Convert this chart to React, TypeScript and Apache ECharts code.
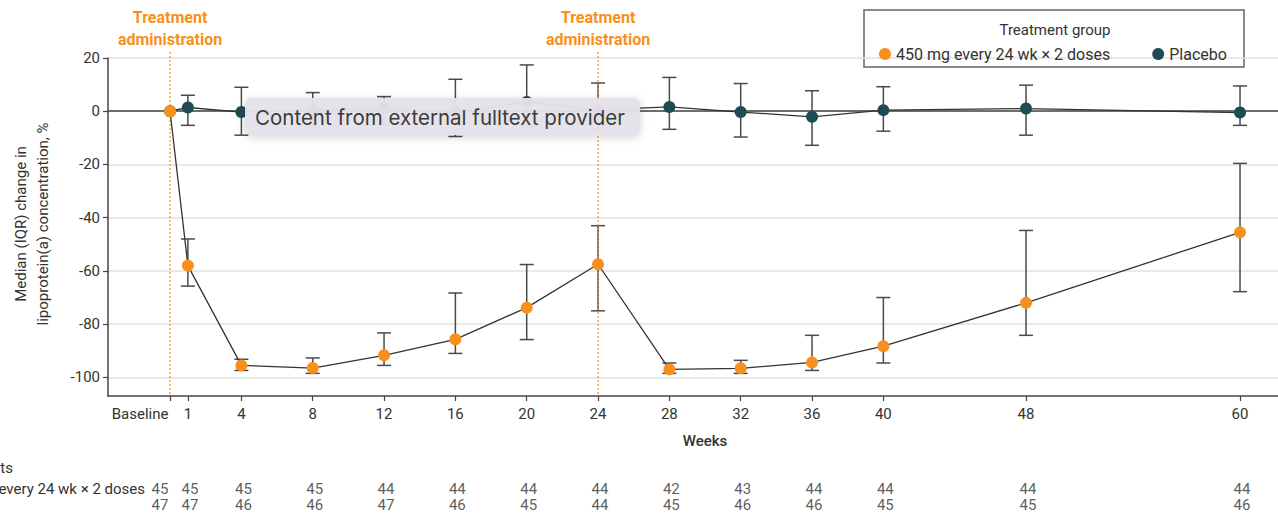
import React, { useEffect, useRef } from "react";
import * as echarts from "echarts";

const weeks = [0, 1, 4, 8, 12, 16, 20, 24, 28, 32, 36, 40, 48, 60];
const weekLabels = ["Baseline", "1", "4", "8", "12", "16", "20", "24", "28", "32", "36", "40", "48", "60"];
const yTicks = [-100, -80, -60, -40, -20, 0, 20];

const treatName = "450 mg every 24 wk × 2 doses";
const placeboName = "Placebo";

const treatMedian = [0, -58, -95.5, -96.5, -91.7, -85.7, -73.8, -57.5, -97, -96.6, -94.4, -88.3, -72, -45.5];
const treatQ1 = [0, -65.7, -97.4, -98.5, -95.5, -91, -85.8, -75, -98.5, -98.5, -97.4, -94.6, -84.2, -67.8];
const treatQ3 = [0, -48, -93.2, -92.7, -83.3, -68.3, -57.6, -43, -94.6, -93.6, -84.2, -70, -44.8, -19.6];

const placeboMedian = [0, 1.4, -0.3, 0.5, 1, -0.5, 3.5, 0.5, 1.6, -0.3, -2.1, 0.4, 1, -0.5];
const placeboQ1 = [0, -5.3, -9, -6, -5, -9.5, -6, -7, -6.8, -9.7, -12.8, -7.5, -9, -5.3];
const placeboQ3 = [0, 6, 9, 7, 5.5, 12, 17.4, 10.6, 12.7, 10.4, 7.7, 9.2, 9.8, 9.5];

const treatCounts = [45, 45, 45, 45, 44, 44, 44, 44, 42, 43, 44, 44, 44, 44];
const placeboCounts = [47, 47, 46, 46, 47, 46, 45, 44, 45, 46, 46, 45, 45, 46];

const treatmentWeeks = [0, 24];

const ORANGE = "#F7901E";
const TEAL = "#1D4C55";
const TEXT = "#333333";
const FONT = "Roboto";

export default function App() {
  const ref = useRef<HTMLDivElement>(null);

  useEffect(() => {
    document.body.style.margin = "0";
    if (!ref.current) return;
    const chart = echarts.init(ref.current, undefined, { renderer: "svg" });

    const errRender = (params: any, api: any) => {
      const x = api.value(0);
      const lo = api.value(1);
      const hi = api.value(2);
      if (lo === hi) return { type: "group", children: [] };
      const pLo = api.coord([x, lo]);
      const pHi = api.coord([x, hi]);
      const w = 7;
      const st = { stroke: "#4a4a4a", lineWidth: 1.5 };
      return {
        type: "group",
        children: [
          { type: "line", shape: { x1: pHi[0], y1: pHi[1], x2: pLo[0], y2: pLo[1] }, style: st },
          { type: "line", shape: { x1: pHi[0] - w, y1: pHi[1], x2: pHi[0] + w, y2: pHi[1] }, style: st },
          { type: "line", shape: { x1: pLo[0] - w, y1: pLo[1], x2: pLo[0] + w, y2: pLo[1] }, style: st },
        ],
      };
    };

    const countData = (counts: number[], row: number) =>
      counts.map((c, i) => ({
        value: [weeks[i], row, c],
        label: weeks[i] === 0 ? { offset: [-10, 0] } : { offset: [2, 0] },
      }));

    const countLabel = {
      show: true,
      position: "inside",
      fontSize: 15,
      color: TEXT,
      fontFamily: FONT,
      formatter: (p: any) => String(p.value[2]),
    };

    const option: any = {
      animation: false,
      textStyle: { fontFamily: FONT },
      legend: {
        left: 874,
        top: 41,
        itemWidth: 12,
        itemHeight: 12,
        itemGap: 42,
        icon: "circle",
        data: [treatName, placeboName],
        textStyle: { fontSize: 16, color: TEXT, fontFamily: FONT },
      },
      grid: [
        { left: 108, right: 0, top: 58, bottom: 118 },
        { left: 108, right: 0, top: 489, height: 16 },
      ],
      xAxis: [
        {
          type: "value",
          gridIndex: 0,
          min: -3.48,
          max: 62.13,
          axisLine: { show: true, onZero: false, lineStyle: { color: "#444", width: 1.5 } },
          axisTick: { show: true, customValues: weeks, length: 5, lineStyle: { color: "#444", width: 1.2 } },
          axisLabel: {
            customValues: weeks,
            margin: 10,
            fontSize: 15,
            color: TEXT,
            fontFamily: FONT,
            formatter: (v: number) => {
              const i = weeks.indexOf(v);
              const t = i >= 0 ? weekLabels[i] : "";
              return v === 0 ? "{b|" + t + "}" : t;
            },
            rich: { b: { padding: [0, 60, 0, 0], fontSize: 15, color: TEXT, fontFamily: FONT } },
          },
          splitLine: { show: false },
        },
        { type: "value", gridIndex: 1, min: -3.48, max: 62.13, show: false },
      ],
      yAxis: [
        {
          type: "value",
          gridIndex: 0,
          min: -107,
          max: 20,
          axisLine: { show: true, onZero: false, lineStyle: { color: "#444", width: 1.5 } },
          axisTick: { show: true, customValues: yTicks, length: 5, lineStyle: { color: "#444", width: 1.2 } },
          axisLabel: { customValues: yTicks, margin: 8, fontSize: 15, color: TEXT, fontFamily: FONT },
          splitLine: { show: true, lineStyle: { color: "#e2e2e2", width: 1.5 } },
        },
        { type: "value", gridIndex: 1, min: 0, max: 1, show: false },
      ],
      series: [
        {
          type: "custom",
          name: placeboName + " IQR",
          xAxisIndex: 0,
          yAxisIndex: 0,
          renderItem: errRender,
          encode: { x: 0, y: [1, 2] },
          data: weeks.map((w, i) => [w, placeboQ1[i], placeboQ3[i]]),
          z: 2,
          silent: true,
        },
        {
          type: "custom",
          name: treatName + " IQR",
          xAxisIndex: 0,
          yAxisIndex: 0,
          renderItem: errRender,
          encode: { x: 0, y: [1, 2] },
          data: weeks.map((w, i) => [w, treatQ1[i], treatQ3[i]]),
          z: 2,
          silent: true,
        },
        {
          type: "line",
          name: placeboName,
          xAxisIndex: 0,
          yAxisIndex: 0,
          data: weeks.map((w, i) => [w, placeboMedian[i]]),
          symbol: "circle",
          symbolSize: 12,
          itemStyle: { color: TEAL },
          lineStyle: { color: "#333", width: 1.3 },
          z: 4,
          markLine: {
            silent: true,
            symbol: "none",
            label: { show: false },
            lineStyle: { color: "#444", width: 1.5, type: "solid" },
            data: [{ yAxis: 0 }],
            z: 1,
          },
        },
        {
          type: "line",
          name: treatName,
          xAxisIndex: 0,
          yAxisIndex: 0,
          data: weeks.map((w, i) => [w, treatMedian[i]]),
          symbol: "circle",
          symbolSize: 12,
          itemStyle: { color: ORANGE },
          lineStyle: { color: "#333", width: 1.3 },
          z: 5,
        },
        {
          type: "scatter",
          name: "n treat",
          xAxisIndex: 1,
          yAxisIndex: 1,
          symbolSize: 0,
          silent: true,
          data: countData(treatCounts, 1),
          label: countLabel,
        },
        {
          type: "scatter",
          name: "n placebo",
          xAxisIndex: 1,
          yAxisIndex: 1,
          symbolSize: 0,
          silent: true,
          data: countData(placeboCounts, 0),
          label: countLabel,
        },
      ],
    };

    chart.setOption(option);

    const yTop = chart.convertToPixel({ yAxisIndex: 0 }, 20) as number;
    const yBottom = chart.convertToPixel({ yAxisIndex: 0 }, -107) as number;
    const graphics: any[] = [];
    treatmentWeeks.forEach((w) => {
      const px = chart.convertToPixel({ xAxisIndex: 0 }, w) as number;
      graphics.push({
        type: "line",
        shape: { x1: px, y1: yTop - 6, x2: px, y2: yBottom },
        style: { stroke: ORANGE, lineWidth: 1.2, lineDash: [2, 2] },
        z: 3,
        silent: true,
      });
      graphics.push({
        type: "text",
        x: px,
        y: 28,
        style: {
          text: "Treatment\nadministration",
          fill: ORANGE,
          font: "bold 16px " + FONT,
          textAlign: "center",
          textVerticalAlign: "middle",
          lineHeight: 22,
        },
      });
    });

    graphics.push(
      {
        type: "text",
        x: 32,
        y: 224,
        rotation: Math.PI / 2,
        style: {
          text: "Median (IQR) change in\nlipoprotein(a) concentration, %",
          fill: TEXT,
          font: "15px " + FONT,
          textAlign: "center",
          textVerticalAlign: "middle",
          lineHeight: 22,
        },
      },
      {
        type: "text",
        x: 705,
        y: 441,
        style: { text: "Weeks", fill: TEXT, font: "500 15px " + FONT, textAlign: "center", textVerticalAlign: "middle" },
      },
      {
        type: "text",
        x: 13,
        y: 468,
        style: { text: "No. of participants", fill: TEXT, font: "15px " + FONT, textAlign: "right", textVerticalAlign: "middle" },
      },
      {
        type: "text",
        x: 145,
        y: 489,
        style: { text: treatName, fill: TEXT, font: "15px " + FONT, textAlign: "right", textVerticalAlign: "middle" },
      },
      {
        type: "rect",
        shape: { x: 864, y: 10, width: 380, height: 57 },
        style: { fill: "#ffffff", stroke: "#666", lineWidth: 1.5 },
        z: -1,
      },
      {
        type: "text",
        x: 1055,
        y: 30,
        style: { text: "Treatment group", fill: TEXT, font: "15px " + FONT, textAlign: "center", textVerticalAlign: "middle" },
      },
      {
        type: "group",
        z: 100,
        children: [
          {
            type: "rect",
            shape: { x: 245, y: 98, width: 395, height: 37, r: 6 },
            style: {
              fill: "rgba(229,226,234,0.96)",
              shadowBlur: 10,
              shadowColor: "rgba(0,0,0,0.18)",
              shadowOffsetY: 2,
            },
            z: 100,
          },
          {
            type: "text",
            x: 255,
            y: 117,
            style: {
              text: "Content from external fulltext provider",
              fill: "#3b3b3b",
              font: "20.5px Inter",
              textAlign: "left",
              textVerticalAlign: "middle",
            },
            z: 101,
          },
        ],
      }
    );

    chart.setOption({ graphic: graphics });

    return () => chart.dispose();
  }, []);

  return <div ref={ref} style={{ width: 1278, height: 514 }} />;
}
